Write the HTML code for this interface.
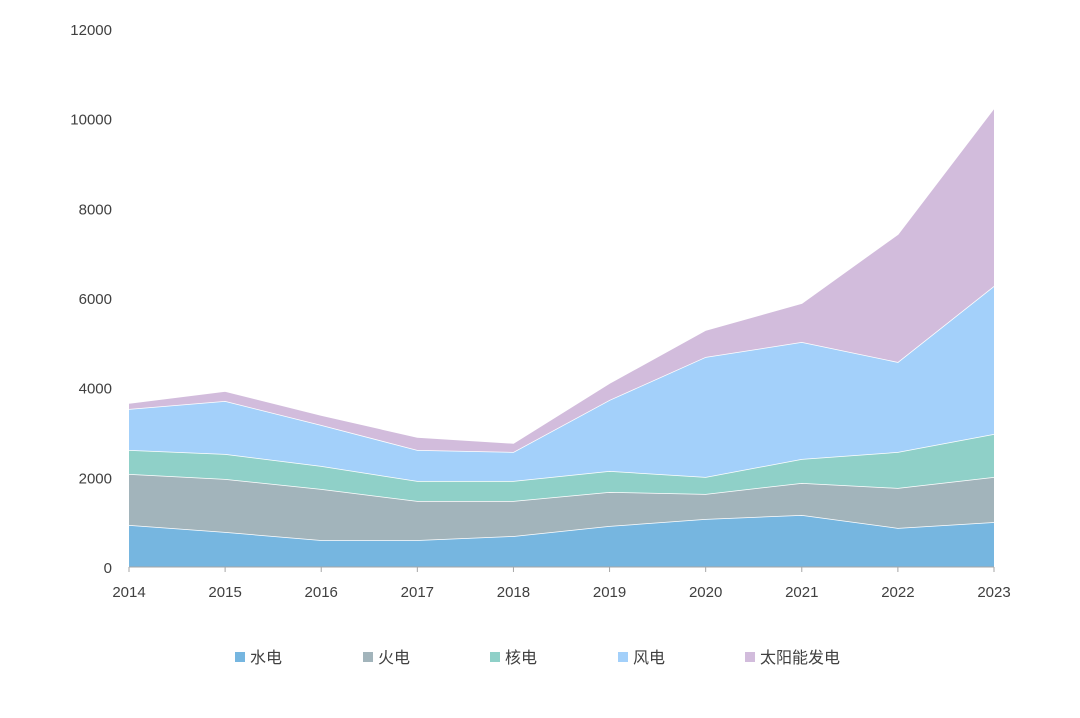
<!DOCTYPE html>
<html><head><meta charset="utf-8"><style>
body{margin:0;background:#fff;}
svg text{font-family:"Liberation Sans","Noto Sans CJK SC",sans-serif;fill:#404040;}
</style></head><body>
<svg id="chart" width="1080" height="713" viewBox="0 0 1080 713" xmlns="http://www.w3.org/2000/svg">
<g id="areas"></g>
<g id="axes"></g>
<g id="legend"></g>
</svg>
<script>
const years = [2014,2015,2016,2017,2018,2019,2020,2021,2022,2023];
const hydro = [937,780,600,600,690,915,1070,1160,870,1000];
const thermal = [1138,1183,1140,872,782,758,558,714,892,1007];
const nuclear = [535,557,513,446,446,468,379,535,803,959];
const wind = [914,1182,914,692,647,1584,2677,2609,2007,3301];
const solar = [134,223,223,290,201,379,602,870,2855,3971];
const seriesNames = ["水电","火电","核电","风电","太阳能发电"];
const yTicks = [0,2000,4000,6000,8000,10000,12000];

const ns="http://www.w3.org/2000/svg";
const colors=["#76b6e0","#a2b4bb","#8fd0c8","#a3d0fa","#d2bcdc"];
const keys=["hydro","thermal","nuclear","wind","solar"];
const X0=129,X1=994,Y0=567,Y1=29;
const x=i=>X0+(X1-X0)*i/(years.length-1);
const y=v=>Y0-(Y0-Y1)*v/12000;
function mk(tag,attrs,parent){const e=document.createElementNS(ns,tag);for(const k in attrs)e.setAttribute(k,attrs[k]);parent.appendChild(e);return e;}
const all=[hydro,thermal,nuclear,wind,solar];
const areas=document.getElementById('areas');
let base=years.map(()=>0);
all.forEach((s,si)=>{
  const top=base.map((b,i)=>b+s[i]);
  let d="M"+years.map((_,i)=>x(i)+","+y(top[i])).join(" L");
  for(let i=years.length-1;i>=0;i--)d+=" L"+x(i)+","+y(base[i]);
  d+=" Z";
  const p=mk('path',{d:d,fill:colors[si],stroke:"none"},areas);
  
  
  const l=mk('polyline',{points:years.map((_,i)=>x(i)+","+y(top[i])).join(" "),fill:"none",stroke:"#fff","stroke-width":1.5},areas);
  
  
  base=top;
});
const axes=document.getElementById('axes');
const ax=mk('line',{x1:X0,x2:X1,y1:Y0,y2:Y0,stroke:"#a6a6a6","stroke-width":1},axes);


years.forEach((yr,i)=>{
  const t=mk('line',{x1:x(i),x2:x(i),y1:Y0,y2:Y0+5,stroke:"#a6a6a6"},axes);
  
  
  const tx=mk('text',{x:x(i),y:597,"text-anchor":"middle","font-size":15},axes);
  tx.textContent=yr;
  
  
});
yTicks.forEach(v=>{
  const tx=mk('text',{x:112,y:y(v)+6,"text-anchor":"end","font-size":15},axes);
  tx.textContent=v;
  
  
});
const legend=document.getElementById('legend');
const lx=[235,363,490,618,745];
seriesNames.forEach((n,i)=>{
  const r=mk('rect',{x:lx[i],y:652,width:10,height:10,fill:colors[i]},legend);
  
  
  const t=mk('text',{x:lx[i]+15,y:663,"font-size":16},legend);
  t.textContent=n;
  
  
});
</script>
</body></html>
